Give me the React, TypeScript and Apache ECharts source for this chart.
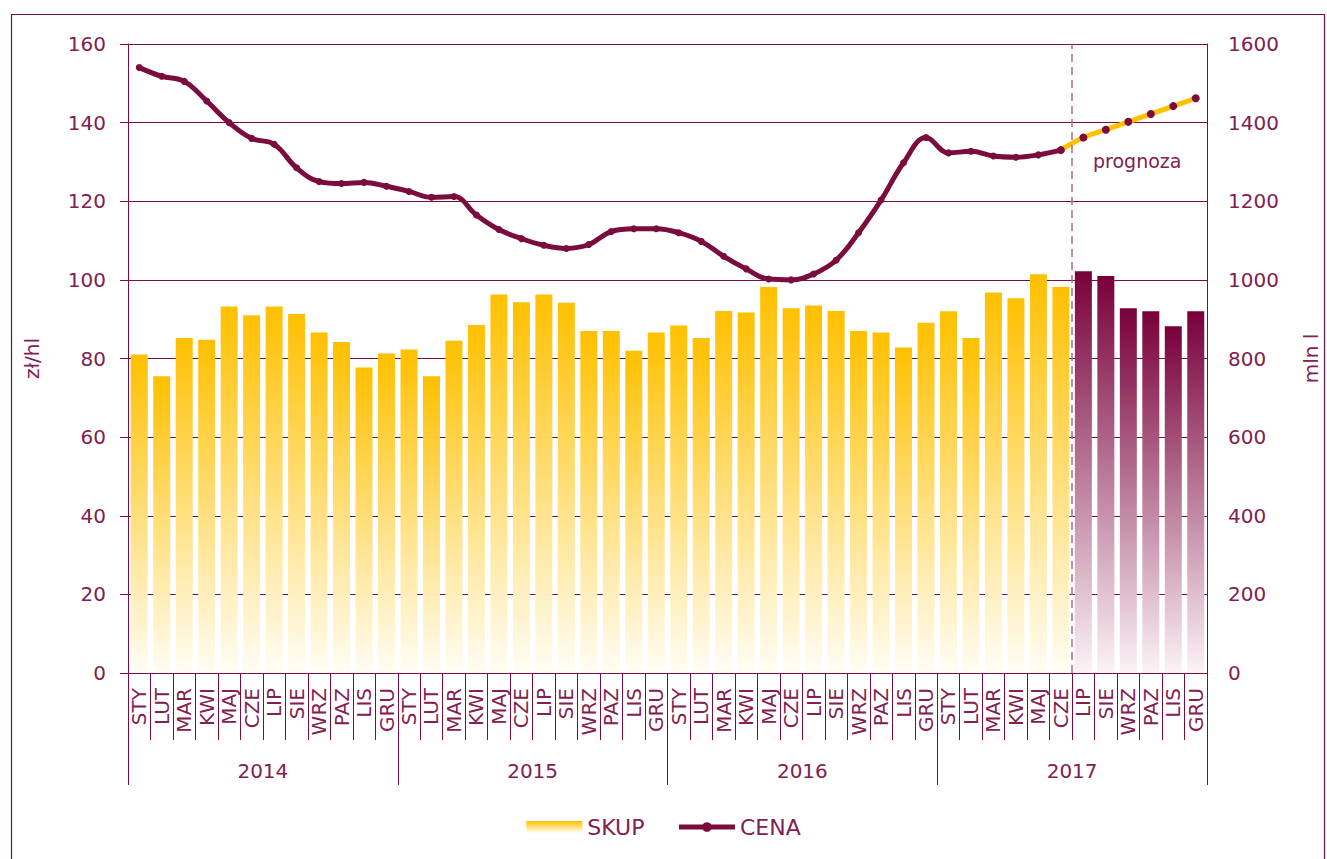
import React, { useEffect, useRef } from "react";
import * as echarts from "echarts";

const months = ["STY", "LUT", "MAR", "KWI", "MAJ", "CZE", "LIP", "SIE", "WRZ", "PAZ", "LIS", "GRU"];
const years = ["2014", "2015", "2016", "2017"];
const categories: string[] = years.flatMap((y) => months.map((m) => `${m} ${y}`));

// SKUP (mln l), right axis
const skup = [
  810, 755, 852, 848, 932, 910, 932, 913, 866, 842, 777, 813,
  823, 755, 845, 885, 963, 943, 963, 942, 870, 870, 820, 866,
  884, 852, 921, 917, 982, 928, 935, 921, 870, 866, 828, 891,
  920, 852, 968, 953, 1014, 982, 1022, 1010, 928, 920, 882, 920,
];
// CENA (zł/hl), left axis
const cena = [
  154, 151.8, 150.5, 145.5, 140, 136, 134.5, 128.5, 125, 124.5, 124.8, 123.8,
  122.5, 121, 121.2, 116.5, 112.8, 110.5, 108.8, 108, 109, 112.3, 113, 113,
  112, 109.8, 106, 102.8, 100.2, 100, 101.5, 105, 112, 120.3, 129.8, 136.2,
  132.3, 132.7, 131.5, 131.2, 131.8, 133, 136.2, 138.2, 140.2, 142.2, 144.2, 146.2,
];
const forecastStart = 42; // LIP 2017

const MAROON = "#7a0c3e";
const TEXT = "#82204f";
const FONT = "DejaVu Sans, Verdana, sans-serif";

export default function App() {
  const ref = useRef<HTMLDivElement>(null);
  useEffect(() => {
    if (!ref.current) return;
    const chart = echarts.init(ref.current, null, { renderer: "svg" });
    const yellowGrad = new echarts.graphic.LinearGradient(0, 0, 0, 1, [
      { offset: 0, color: "#ffc000" },
      { offset: 1, color: "#fffdf5" },
    ]);
    const maroonGrad = new echarts.graphic.LinearGradient(0, 0, 0, 1, [
      { offset: 0, color: "#78003a" },
      { offset: 1, color: "#fbf3f6" },
    ]);
    const barData = skup.map((v, i) =>
      i >= forecastStart ? { value: v, itemStyle: { color: maroonGrad } } : v
    );
    const actual = cena.map((v, i) => (i < forecastStart ? v : null));
    const forecast = cena.map((v, i) => (i >= forecastStart - 1 ? v : null));

    chart.setOption({
      animation: false,
      textStyle: { fontFamily: FONT, color: TEXT },
      grid: {
        left: 128,
        right: 120,
        top: 44,
        bottom: 186,
        containLabel: false,
        outerBoundsMode: "none",
      },
      legend: {
        bottom: 16,
        left: "center",
        itemGap: 32,
        itemWidth: 56,
        itemHeight: 12,
        textStyle: { color: TEXT, fontSize: 22, fontFamily: FONT },
        data: [
          { name: "SKUP", icon: "rect", itemStyle: { color: yellowGrad } },
          { name: "CENA", lineStyle: { width: 5, color: MAROON } },
        ],
      },
      xAxis: [
        {
          type: "category",
          data: categories,
          position: "bottom",
          axisLine: { show: true, lineStyle: { color: MAROON, width: 1 } },
          axisTick: { show: true, length: 67, interval: 0, lineStyle: { color: MAROON } },
          axisLabel: {
            interval: 0,
            rotate: 90,
            margin: 15,
            fontSize: 20,
            color: TEXT,
            fontFamily: FONT,
            formatter: (v: string) => v.split(" ")[0],
          },
          splitLine: { show: false },
        },
        {
          type: "category",
          data: years,
          position: "bottom",
          axisLine: { show: true, lineStyle: { color: MAROON, width: 1 } },
          axisTick: { show: true, length: 112, interval: 0, lineStyle: { color: MAROON } },
          axisLabel: { interval: 0, margin: 88, fontSize: 20, color: TEXT, fontFamily: FONT },
          splitLine: { show: false },
        },
        {
          type: "value",
          min: 0,
          max: 48,
          show: false,
        },
      ],
      yAxis: [
        {
          type: "value",
          min: 0,
          max: 160,
          interval: 20,
          name: "zł/hl",
          nameLocation: "middle",
          nameRotate: 90,
          nameGap: 86,
          nameTextStyle: { color: TEXT, fontSize: 20, fontFamily: FONT },
          axisLine: { show: true, lineStyle: { color: MAROON, width: 1 } },
          axisTick: { show: true, length: 8, lineStyle: { color: MAROON } },
          axisLabel: { fontSize: 20, color: TEXT, margin: 22, fontFamily: FONT },
          splitLine: { show: true, lineStyle: { color: MAROON, width: 1 } },
        },
        {
          type: "value",
          min: 0,
          max: 1600,
          interval: 200,
          position: "right",
          name: "mln l",
          nameLocation: "middle",
          nameRotate: 90,
          nameGap: 94,
          nameTextStyle: { color: TEXT, fontSize: 20, fontFamily: FONT },
          axisLine: { show: true, lineStyle: { color: MAROON, width: 1 } },
          axisTick: { show: false },
          axisLabel: {
            fontSize: 20,
            color: TEXT,
            margin: 21,
            fontFamily: FONT,
            formatter: (v: number) => String(v),
          },
          splitLine: { show: false },
        },
      ],
      series: [
        {
          name: "SKUP",
          type: "bar",
          xAxisIndex: 0,
          yAxisIndex: 1,
          barWidth: 17,
          data: barData,
          itemStyle: { color: yellowGrad },
          z: 2,
        },
        {
          name: "CENA",
          type: "line",
          xAxisIndex: 0,
          yAxisIndex: 0,
          smooth: 0.4,
          data: actual,
          symbol: "circle",
          symbolSize: 7,
          lineStyle: { color: MAROON, width: 5 },
          itemStyle: { color: MAROON },
          z: 4,
        },
        {
          name: "prognoza",
          type: "line",
          xAxisIndex: 0,
          yAxisIndex: 0,
          smooth: 0.4,
          data: forecast,
          symbol: "circle",
          symbolSize: 8,
          lineStyle: { color: "#ffc000", width: 5 },
          itemStyle: { color: MAROON },
          z: 4,
        },
        {
          name: "granica",
          type: "line",
          xAxisIndex: 2,
          yAxisIndex: 0,
          data: [],
          markLine: {
            silent: true,
            symbol: "none",
            label: { show: false },
            lineStyle: { color: "#b06a8c", type: [8, 5], width: 1.5 },
            data: [{ xAxis: forecastStart }],
          },
        },
      ],
      graphic: [
        {
          type: "rect",
          left: 9,
          top: 12,
          shape: { width: 1313, height: 860 },
          style: { fill: "none", stroke: MAROON, lineWidth: 1.2 },
          silent: true,
        },
        {
          type: "text",
          left: 1093,
          top: 151,
          style: { text: "prognoza", fill: TEXT, fontSize: 19, fontFamily: FONT },
        },
      ],
    });
    return () => chart.dispose();
  }, []);
  return (
    <div
      ref={ref}
      style={{ position: "fixed", left: 0, top: 0, width: 1327, height: 859, background: "#fff" }}
    />
  );
}
